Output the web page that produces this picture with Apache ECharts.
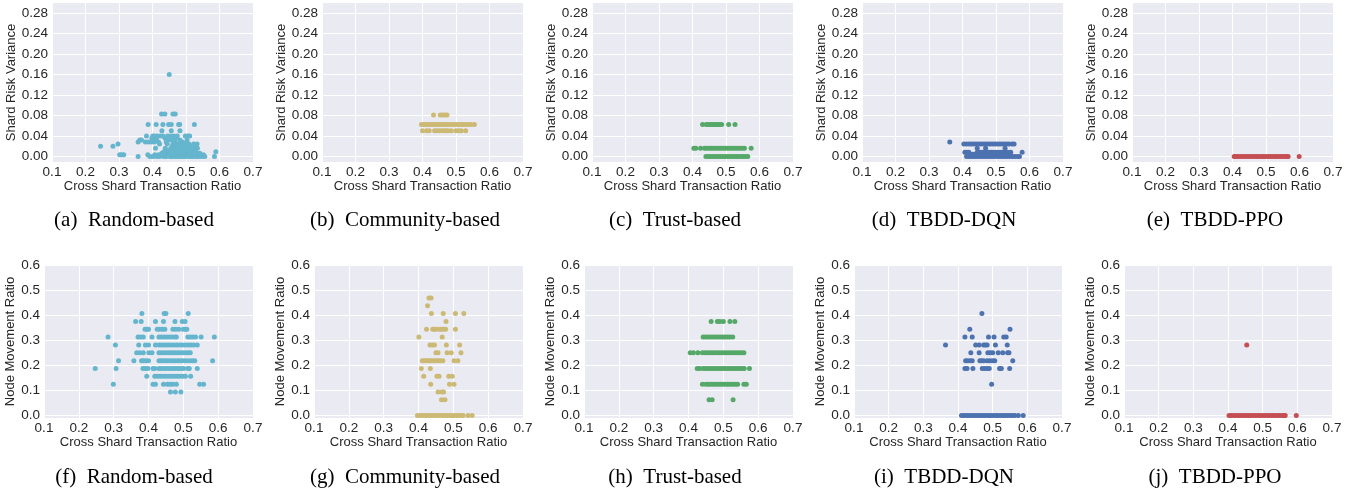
<!DOCTYPE html>
<html><head><meta charset="utf-8">
<script src="https://cdn.jsdelivr.net/npm/echarts@6/dist/echarts.min.js"></script>
<style>html,body{margin:0;padding:0;background:#fff}#c{width:1364px;height:493px}</style>
</head><body><div id="c"></div>
<script>
// ---------- tick labels / categories ----------
const methods = ['Random-based', 'Community-based', 'Trust-based', 'TBDD-DQN', 'TBDD-PPO'];
const lettersTop = ['a', 'b', 'c', 'd', 'e'];
const lettersBottom = ['f', 'g', 'h', 'i', 'j'];
const xTicks = [0.1, 0.2, 0.3, 0.4, 0.5, 0.6, 0.7];
const riskTicks = [0, 0.04, 0.08, 0.12, 0.16, 0.2, 0.24, 0.28];
const moveTicks = [0, 0.1, 0.2, 0.3, 0.4, 0.5, 0.6];
const xName = 'Cross Shard Transaction Ratio';
const riskName = 'Shard Risk Variance';
const moveName = 'Node Movement Ratio';

// ---------- data: [cross shard ratio, value] ----------
const randomRisk = [
[0.357,0],[0.392,0],[0.401,0],[0.412,0],[0.421,0],[0.433,0],[0.441,0],[0.452,0],[0.458,0],[0.466,0],[0.473,0],[0.481,0],[0.488,0],[0.497,0],[0.505,0],[0.514,0],[0.522,0],[0.531,0],[0.538,0],[0.547,0],[0.556,0],[0.585,0],
[0.302,0.003],[0.308,0.003],[0.314,0.003],[0.386,0.003],[0.407,0.003],[0.418,0.003],[0.427,0.003],[0.436,0.003],[0.445,0.003],[0.455,0.003],[0.462,0.003],[0.470,0.003],[0.477,0.003],[0.485,0.003],[0.493,0.003],[0.501,0.003],[0.509,0.003],[0.518,0.003],[0.527,0.003],[0.536,0.003],[0.543,0.003],[0.552,0.003],
[0.428,0.006],[0.439,0.006],[0.449,0.006],[0.457,0.006],[0.464,0.006],[0.471,0.006],[0.479,0.006],[0.487,0.006],[0.494,0.006],[0.503,0.006],[0.511,0.006],[0.520,0.006],[0.533,0.006],[0.541,0.006],
[0.434,0.009],[0.452,0.009],[0.461,0.009],[0.469,0.009],[0.476,0.009],[0.484,0.009],[0.491,0.009],[0.499,0.009],[0.507,0.009],[0.516,0.009],[0.529,0.009],[0.589,0.009],
[0.447,0.012],[0.466,0.012],[0.474,0.012],[0.482,0.012],[0.496,0.012],[0.513,0.012],[0.525,0.012],
[0.409,0.016],[0.438,0.016],[0.455,0.016],[0.463,0.016],[0.471,0.016],[0.479,0.016],[0.488,0.016],[0.503,0.016],[0.518,0.016],[0.534,0.016],
[0.245,0.020],[0.282,0.020],[0.459,0.020],[0.476,0.020],[0.492,0.020],[0.511,0.020],[0.526,0.020],
[0.297,0.024],[0.421,0.024],[0.444,0.024],[0.461,0.024],[0.468,0.024],[0.479,0.024],[0.486,0.024],[0.494,0.024],[0.502,0.024],[0.509,0.024],[0.523,0.024],[0.533,0.024],
[0.357,0.028],[0.379,0.028],[0.388,0.028],[0.397,0.028],[0.405,0.028],[0.418,0.028],[0.441,0.028],[0.468,0.028],[0.489,0.028],
[0.362,0.032],[0.367,0.032],[0.402,0.032],[0.407,0.032],[0.448,0.032],[0.459,0.032],[0.482,0.032],[0.503,0.032],
[0.398,0.036],[0.412,0.036],[0.437,0.036],[0.471,0.036],
[0.382,0.040],[0.401,0.040],[0.406,0.040],[0.414,0.040],[0.423,0.040],[0.431,0.040],[0.445,0.040],[0.455,0.040],[0.464,0.040],[0.474,0.040],[0.498,0.040],[0.505,0.040],[0.511,0.040],
[0.428,0.050],[0.456,0.050],[0.482,0.050],
[0.387,0.0625],[0.411,0.0625],[0.431,0.0625],[0.448,0.0625],[0.456,0.0625],[0.478,0.0625],[0.481,0.0625],[0.525,0.0625],
[0.427,0.083],[0.437,0.083],[0.461,0.083],[0.468,0.083],
[0.450,0.160]
];
const communityRisk = [
[0.433,0.081],[0.453,0.081],[0.460,0.081],[0.467,0.081],[0.473,0.081],
[0.397,0.0625],[0.404,0.0625],[0.411,0.0625],[0.418,0.0625],[0.425,0.0625],[0.432,0.0625],[0.439,0.0625],[0.446,0.0625],[0.453,0.0625],[0.460,0.0625],[0.467,0.0625],[0.474,0.0625],[0.481,0.0625],[0.488,0.0625],[0.495,0.0625],[0.502,0.0625],[0.509,0.0625],[0.516,0.0625],[0.523,0.0625],[0.530,0.0625],[0.537,0.0625],[0.545,0.0625],[0.555,0.0625],
[0.400,0.05],[0.412,0.05],[0.420,0.05],[0.436,0.05],[0.443,0.05],[0.450,0.05],[0.457,0.05],[0.464,0.05],[0.471,0.05],[0.476,0.05],[0.486,0.05],[0.500,0.05],[0.508,0.05],[0.516,0.05],[0.529,0.05]
];
const trustRisk = [
[0.430,0.0625],[0.441,0.0625],[0.446,0.0625],[0.452,0.0625],[0.458,0.0625],[0.464,0.0625],[0.469,0.0625],[0.475,0.0625],[0.481,0.0625],[0.487,0.0625],[0.508,0.0625],[0.527,0.0625],
[0.404,0.016],[0.410,0.016],[0.424,0.016],[0.436,0.016],[0.443,0.016],[0.450,0.016],[0.457,0.016],[0.464,0.016],[0.471,0.016],[0.478,0.016],[0.485,0.016],[0.492,0.016],[0.499,0.016],[0.506,0.016],[0.513,0.016],[0.520,0.016],[0.527,0.016],[0.534,0.016],[0.541,0.016],[0.548,0.016],[0.555,0.016],[0.575,0.016],
[0.440,0],[0.447,0],[0.454,0],[0.461,0],[0.468,0],[0.475,0],[0.482,0],[0.489,0],[0.496,0],[0.503,0],[0.510,0],[0.517,0],[0.524,0],[0.531,0],[0.538,0],[0.545,0],[0.552,0],[0.559,0],[0.565,0]
];
const dqnRisk = [
[0.362,0.028],
[0.404,0.024],[0.412,0.024],[0.420,0.024],[0.427,0.024],[0.434,0.024],[0.441,0.024],[0.448,0.024],[0.455,0.024],[0.462,0.024],[0.469,0.024],[0.476,0.024],[0.483,0.024],[0.490,0.024],[0.497,0.024],[0.504,0.024],[0.511,0.024],[0.518,0.024],[0.525,0.024],[0.532,0.024],[0.539,0.024],[0.548,0.024],[0.554,0.024],
[0.444,0.016],[0.469,0.016],[0.527,0.016],
[0.407,0.008],[0.413,0.008],[0.419,0.008],[0.444,0.008],[0.451,0.008],[0.458,0.008],[0.465,0.008],[0.472,0.008],[0.479,0.008],[0.486,0.008],[0.493,0.008],[0.500,0.008],[0.507,0.008],[0.514,0.008],[0.521,0.008],[0.528,0.008],[0.535,0.008],[0.544,0.008],[0.578,0.008],
[0.430,0.004],[0.437,0.004],[0.452,0.004],[0.468,0.004],[0.482,0.004],[0.496,0.004],[0.512,0.004],[0.526,0.004],[0.540,0.004],
[0.412,0],[0.420,0],[0.428,0],[0.436,0],[0.444,0],[0.452,0],[0.460,0],[0.468,0],[0.476,0],[0.484,0],[0.492,0],[0.500,0],[0.508,0],[0.516,0],[0.524,0],[0.532,0],[0.540,0],[0.548,0],[0.556,0],[0.564,0],[0.570,0]
];
const ppoRisk = [
[0.405,0],[0.410,0],[0.416,0],[0.423,0],[0.430,0],[0.437,0],[0.444,0],[0.451,0],[0.458,0],[0.465,0],[0.472,0],[0.479,0],[0.486,0],[0.493,0],[0.500,0],[0.507,0],[0.514,0],[0.521,0],[0.528,0],[0.535,0],[0.542,0],[0.549,0],[0.556,0],[0.563,0],[0.566,0],[0.599,0]
];
const randomMove = [
[0.463,0.09375],[0.477,0.09375],[0.493,0.09375],
[0.299,0.125],[0.413,0.125],[0.420,0.125],[0.443,0.125],[0.454,0.125],[0.462,0.125],[0.470,0.125],[0.480,0.125],[0.547,0.125],[0.558,0.125],
[0.395,0.15625],[0.418,0.15625],[0.426,0.15625],[0.434,0.15625],[0.442,0.15625],[0.450,0.15625],[0.458,0.15625],[0.466,0.15625],[0.474,0.15625],[0.482,0.15625],[0.490,0.15625],[0.498,0.15625],[0.506,0.15625],[0.521,0.15625],
[0.247,0.1875],[0.307,0.1875],[0.384,0.1875],[0.391,0.1875],[0.398,0.1875],[0.413,0.1875],[0.418,0.1875],[0.430,0.1875],[0.437,0.1875],[0.445,0.1875],[0.453,0.1875],[0.461,0.1875],[0.469,0.1875],[0.477,0.1875],[0.485,0.1875],[0.493,0.1875],[0.501,0.1875],[0.513,0.1875],[0.517,0.1875],[0.540,0.1875],
[0.314,0.21875],[0.358,0.21875],[0.380,0.21875],[0.386,0.21875],[0.393,0.21875],[0.400,0.21875],[0.430,0.21875],[0.436,0.21875],[0.442,0.21875],[0.448,0.21875],[0.455,0.21875],[0.462,0.21875],[0.469,0.21875],[0.476,0.21875],[0.483,0.21875],[0.490,0.21875],[0.497,0.21875],[0.504,0.21875],[0.511,0.21875],[0.520,0.21875],[0.527,0.21875],[0.533,0.21875],[0.584,0.21875],
[0.366,0.25],[0.375,0.25],[0.385,0.25],[0.401,0.25],[0.410,0.25],[0.430,0.25],[0.437,0.25],[0.444,0.25],[0.451,0.25],[0.458,0.25],[0.465,0.25],[0.472,0.25],[0.479,0.25],[0.486,0.25],[0.493,0.25],[0.500,0.25],[0.507,0.25],[0.514,0.25],[0.520,0.25],
[0.305,0.28125],[0.372,0.28125],[0.391,0.28125],[0.400,0.28125],[0.420,0.28125],[0.430,0.28125],[0.437,0.28125],[0.444,0.28125],[0.451,0.28125],[0.458,0.28125],[0.466,0.28125],[0.474,0.28125],[0.482,0.28125],[0.490,0.28125],[0.498,0.28125],[0.506,0.28125],[0.514,0.28125],[0.522,0.28125],[0.530,0.28125],[0.540,0.28125],
[0.284,0.3125],[0.370,0.3125],[0.377,0.3125],[0.385,0.3125],[0.410,0.3125],[0.430,0.3125],[0.437,0.3125],[0.445,0.3125],[0.452,0.3125],[0.460,0.3125],[0.468,0.3125],[0.476,0.3125],[0.480,0.3125],[0.513,0.3125],[0.520,0.3125],[0.527,0.3125],[0.535,0.3125],[0.551,0.3125],[0.589,0.3125],
[0.390,0.34375],[0.396,0.34375],[0.400,0.34375],[0.425,0.34375],[0.432,0.34375],[0.440,0.34375],[0.447,0.34375],[0.470,0.34375],[0.478,0.34375],[0.487,0.34375],[0.500,0.34375],[0.506,0.34375],[0.510,0.34375],
[0.363,0.375],[0.379,0.375],[0.420,0.375],[0.443,0.375],[0.476,0.375],[0.497,0.375],[0.505,0.375],
[0.381,0.40625],[0.445,0.40625],[0.450,0.40625],[0.514,0.40625]
];
const communityMove = [
[0.430,0.46875],[0.436,0.46875],
[0.426,0.4375],
[0.437,0.40625],[0.471,0.40625],[0.506,0.40625],[0.530,0.40625],
[0.479,0.375],
[0.423,0.34375],[0.441,0.34375],[0.446,0.34375],[0.451,0.34375],[0.461,0.34375],[0.466,0.34375],[0.472,0.34375],[0.478,0.34375],[0.506,0.34375],
[0.401,0.3125],[0.468,0.3125],
[0.433,0.28125],[0.440,0.28125],[0.446,0.28125],[0.480,0.28125],[0.518,0.28125],
[0.450,0.25],[0.456,0.25],[0.482,0.25],[0.494,0.25],[0.522,0.25],
[0.411,0.21875],[0.416,0.21875],[0.421,0.21875],[0.426,0.21875],[0.431,0.21875],[0.436,0.21875],[0.442,0.21875],[0.446,0.21875],[0.452,0.21875],[0.458,0.21875],[0.463,0.21875],[0.470,0.21875],[0.502,0.21875],[0.513,0.21875],
[0.408,0.1875],[0.434,0.1875],
[0.415,0.15625],[0.453,0.15625],[0.459,0.15625],[0.487,0.15625],[0.497,0.15625],
[0.435,0.125],[0.489,0.125],[0.502,0.125],
[0.456,0.09375],[0.467,0.09375],[0.472,0.09375],
[0.466,0.0625],[0.476,0.0625],
[0.397,0],[0.404,0],[0.411,0],[0.418,0],[0.425,0],[0.432,0],[0.439,0],[0.446,0],[0.453,0],[0.460,0],[0.467,0],[0.474,0],[0.481,0],[0.488,0],[0.495,0],[0.502,0],[0.509,0],[0.516,0],[0.523,0],[0.528,0],[0.542,0],[0.554,0]
];
const trustMove = [
[0.465,0.375],[0.483,0.375],[0.490,0.375],[0.500,0.375],[0.519,0.375],[0.533,0.375],
[0.442,0.3125],[0.449,0.3125],[0.456,0.3125],[0.463,0.3125],[0.470,0.3125],[0.477,0.3125],[0.484,0.3125],[0.491,0.3125],[0.498,0.3125],[0.505,0.3125],[0.512,0.3125],[0.519,0.3125],[0.527,0.3125],
[0.405,0.25],[0.414,0.25],[0.427,0.25],[0.440,0.25],[0.447,0.25],[0.454,0.25],[0.461,0.25],[0.468,0.25],[0.475,0.25],[0.482,0.25],[0.489,0.25],[0.496,0.25],[0.503,0.25],[0.510,0.25],[0.517,0.25],[0.524,0.25],[0.531,0.25],[0.538,0.25],[0.545,0.25],[0.552,0.25],[0.559,0.25],
[0.425,0.1875],[0.432,0.1875],[0.442,0.1875],[0.449,0.1875],[0.456,0.1875],[0.463,0.1875],[0.470,0.1875],[0.477,0.1875],[0.484,0.1875],[0.491,0.1875],[0.498,0.1875],[0.505,0.1875],[0.512,0.1875],[0.519,0.1875],[0.526,0.1875],[0.533,0.1875],[0.540,0.1875],[0.547,0.1875],[0.554,0.1875],[0.560,0.1875],[0.575,0.1875],
[0.440,0.125],[0.450,0.125],[0.457,0.125],[0.464,0.125],[0.471,0.125],[0.478,0.125],[0.485,0.125],[0.492,0.125],[0.499,0.125],[0.506,0.125],[0.513,0.125],[0.520,0.125],[0.527,0.125],[0.534,0.125],[0.541,0.125],[0.559,0.125],[0.566,0.125],
[0.459,0.0625],[0.468,0.0625],[0.528,0.0625]
];
const dqnMove = [
[0.469,0.40625],
[0.434,0.34375],[0.550,0.34375],
[0.420,0.3125],[0.441,0.3125],[0.488,0.3125],[0.504,0.3125],[0.532,0.3125],[0.539,0.3125],
[0.364,0.28125],[0.451,0.28125],[0.461,0.28125],[0.474,0.28125],[0.479,0.28125],[0.484,0.28125],[0.508,0.28125],[0.542,0.28125],
[0.437,0.25],[0.461,0.25],[0.486,0.25],[0.493,0.25],[0.500,0.25],[0.516,0.25],[0.529,0.25],[0.543,0.25],[0.547,0.25],
[0.422,0.21875],[0.428,0.21875],[0.435,0.21875],[0.441,0.21875],[0.463,0.21875],[0.468,0.21875],[0.474,0.21875],[0.484,0.21875],[0.491,0.21875],[0.499,0.21875],[0.506,0.21875],[0.558,0.21875],
[0.420,0.1875],[0.426,0.1875],[0.443,0.1875],[0.470,0.1875],[0.477,0.1875],[0.484,0.1875],[0.490,0.1875],[0.520,0.1875],[0.525,0.1875],[0.549,0.1875],
[0.497,0.125],
[0.410,0],[0.417,0],[0.424,0],[0.431,0],[0.438,0],[0.445,0],[0.452,0],[0.459,0],[0.466,0],[0.473,0],[0.480,0],[0.487,0],[0.494,0],[0.501,0],[0.508,0],[0.515,0],[0.522,0],[0.529,0],[0.536,0],[0.543,0],[0.550,0],[0.557,0],[0.564,0],[0.574,0],[0.588,0]
];
const ppoMove = [
[0.454,0.28125],
[0.403,0],[0.409,0],[0.416,0],[0.423,0],[0.430,0],[0.437,0],[0.444,0],[0.451,0],[0.458,0],[0.465,0],[0.472,0],[0.479,0],[0.486,0],[0.493,0],[0.500,0],[0.507,0],[0.514,0],[0.521,0],[0.528,0],[0.535,0],[0.542,0],[0.549,0],[0.556,0],[0.562,0],[0.565,0],[0.597,0]
];

// ---------- build chart ----------
const colors = ['#64B5CD', '#CCB974', '#55A868', '#4C72B0', '#C44E52'];
const topData = [randomRisk, communityRisk, trustRisk, dqnRisk, ppoRisk];
const bottomData = [randomMove, communityMove, trustMove, dqnMove, ppoMove];

const TXT = '#262626';
const SANS = 'Liberation Sans, Arial, sans-serif';
const grids = [], xAxes = [], yAxes = [], series = [], graphics = [];

function addPanel(idx, left, top, width, height, data, color, yTicks, yMin, yMax, yDigits, yName, yNameGap, xNameGap) {
  grids.push({left, top, width, height, show: true, backgroundColor: '#EAEAF2', borderWidth: 0});
  xAxes.push({
    type: 'value', gridIndex: idx, min: 0.1, max: 0.7,
    axisLine: {show: false}, axisTick: {show: false, customValues: xTicks},
    axisLabel: {customValues: xTicks, color: TXT, fontSize: 13.5, fontFamily: SANS, margin: 3, formatter: v => v.toFixed(1)},
    splitLine: {show: true, lineStyle: {color: '#ffffff', width: 1}},
    name: xName, nameLocation: 'middle', nameGap: xNameGap,
    nameTextStyle: {color: TXT, fontSize: 13, fontFamily: SANS}
  });
  yAxes.push({
    type: 'value', gridIndex: idx, min: yMin, max: yMax,
    axisLine: {show: false}, axisTick: {show: false, customValues: yTicks},
    axisLabel: {customValues: yTicks, color: TXT, fontSize: 13.5, fontFamily: SANS, margin: 4, formatter: v => v.toFixed(yDigits)},
    splitLine: {show: true, lineStyle: {color: '#ffffff', width: 1}},
    name: yName, nameLocation: 'middle', nameGap: yNameGap, nameRotate: 90,
    nameTextStyle: {color: TXT, fontSize: 13, fontFamily: SANS}
  });
  series.push({
    type: 'scatter', xAxisIndex: idx, yAxisIndex: idx, data,
    symbol: 'circle', symbolSize: 5, itemStyle: {color, opacity: 1},
    emphasis: {disabled: true}, silent: true
  });
}

const topLefts = [52, 322, 592, 862, 1132];
const botLefts = [44, 314, 584, 854, 1124];
const botWidths = [209, 209, 209, 208, 208];
const capCenters = [134, 405, 675, 944, 1215];

for (let k = 0; k < 5; k++) {
  addPanel(k, topLefts[k], 3, 201, 159, topData[k], colors[k], riskTicks, -0.011, 0.30, 2, riskName, 34, 17);
}
for (let k = 0; k < 5; k++) {
  addPanel(5 + k, botLefts[k], 265, botWidths[k], 153, bottomData[k], colors[k], moveTicks, -0.01, 0.6, 1, moveName, 26, 18);
}
for (let k = 0; k < 5; k++) {
  graphics.push({type: 'text', x: capCenters[k], y: 220, silent: true,
    style: {text: '(' + lettersTop[k] + ')  ' + methods[k], font: '21px "Liberation Serif", "Times New Roman", serif', fill: '#000', textAlign: 'center', textVerticalAlign: 'middle'}});
  graphics.push({type: 'text', x: capCenters[k], y: 477, silent: true,
    style: {text: '(' + lettersBottom[k] + ')  ' + methods[k], font: '21px "Liberation Serif", "Times New Roman", serif', fill: '#000', textAlign: 'center', textVerticalAlign: 'middle'}});
}

const chart = echarts.init(document.getElementById('c'), null, {renderer: 'canvas'});
chart.setOption({
  animation: false,
  backgroundColor: '#ffffff',
  grid: grids, xAxis: xAxes, yAxis: yAxes, series,
  graphic: graphics
});
</script>
</body></html>
